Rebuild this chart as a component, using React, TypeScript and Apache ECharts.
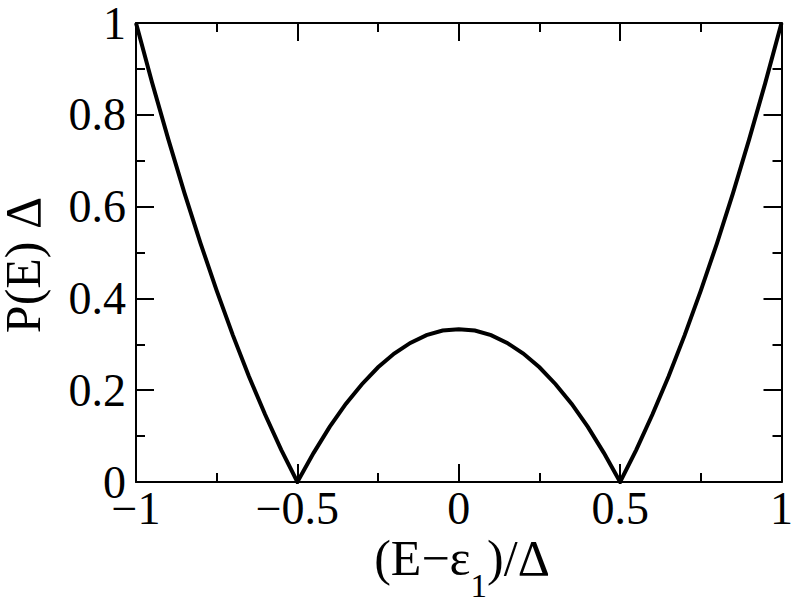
import React, { useEffect, useRef } from "react";
import * as echarts from "echarts";

// Curve: (E - eps1)/Delta  vs  P(E) Delta
const xValues = [
  -1, -0.95, -0.9, -0.85, -0.8, -0.75, -0.7, -0.65, -0.6, -0.55, -0.5,
  -0.45, -0.4, -0.35, -0.3, -0.25, -0.2, -0.15, -0.1, -0.05, 0,
  0.05, 0.1, 0.15, 0.2, 0.25, 0.3, 0.35, 0.4, 0.45, 0.5,
  0.55, 0.6, 0.65, 0.7, 0.75, 0.8, 0.85, 0.9, 0.95, 1,
];
const yValues = [
  1.0, 0.87, 0.747, 0.63, 0.52, 0.417, 0.32, 0.23, 0.147, 0.07, 0,
  0.063, 0.12, 0.17, 0.213, 0.25, 0.28, 0.303, 0.32, 0.33, 0.333,
  0.33, 0.32, 0.303, 0.28, 0.25, 0.213, 0.17, 0.12, 0.063, 0,
  0.07, 0.147, 0.23, 0.32, 0.417, 0.52, 0.63, 0.747, 0.87, 1.0,
];

const xTickValues = [-1, -0.5, 0, 0.5, 1];
const xTickLabels = ["\u22121", "\u22120.5", "0", "0.5", "1"];
const yTickValues = [0, 0.2, 0.4, 0.6, 0.8, 1];
const yTickLabels = ["0", "0.2", "0.4", "0.6", "0.8", "1"];

const xTitleParts = ["(E\u2212\u03b5", "1", ")/\u0394"];
const yTitle = "P(E) \u0394";

const FONT = "'Liberation Serif', 'Times New Roman', Times, serif";

function labelFor(values: number[], labels: string[]) {
  return (v: number) => {
    const i = values.findIndex((t) => Math.abs(t - v) < 1e-9);
    return i >= 0 ? labels[i] : "";
  };
}

function measure(text: string, size: number) {
  const c = document.createElement("canvas").getContext("2d");
  if (!c) return text.length * size * 0.5;
  c.font = `${size}px ${FONT}`;
  return c.measureText(text).width;
}

export default function App() {
  const ref = useRef<HTMLDivElement>(null);

  useEffect(() => {
    if (!ref.current) return;
    const chart = echarts.init(ref.current, undefined, { renderer: "svg" });

    const axisLine = { show: true, onZero: false, lineStyle: { color: "#000", width: 2 } };
    const axisTick = { show: true, inside: true, length: 18, lineStyle: { color: "#000", width: 2 } };
    const minorTick = { show: true, splitNumber: 2, length: 9, lineStyle: { color: "#000", width: 2 } };
    const labelStyle = { color: "#000", fontFamily: FONT, fontSize: 46 };

    const data = xValues.map((x, i) => [x, yValues[i]]);

    // x-axis title with subscript, laid out from measured widths
    const mainSize = 50;
    const subSize = 33;
    const w1 = measure(xTitleParts[0], mainSize);
    const ws = measure(xTitleParts[1], subSize);
    const w2 = measure(xTitleParts[2], mainSize);
    const total = w1 + ws + w2;
    const startX = 462 - total / 2;
    const mainY = 575 - 0.3375 * mainSize;
    const subY = 597 - 0.3375 * subSize;

    chart.setOption({
      animation: false,
      backgroundColor: "#fff",
      grid: { left: 136, right: 10, top: 18, bottom: 117, containLabel: false },
      xAxis: [
        {
          type: "value",
          min: -1,
          max: 1,
          interval: 0.5,
          position: "bottom",
          axisLine,
          axisTick,
          minorTick,
          splitLine: { show: false },
          axisLabel: {
            ...labelStyle,
            margin: 3,
            showMinLabel: true,
            showMaxLabel: true,
            formatter: labelFor(xTickValues, xTickLabels),
          },
        },
        {
          type: "value",
          min: -1,
          max: 1,
          interval: 0.5,
          position: "top",
          axisLine,
          axisTick,
          minorTick,
          splitLine: { show: false },
          axisLabel: { show: false },
        },
      ],
      yAxis: [
        {
          type: "value",
          min: 0,
          max: 1,
          interval: 0.2,
          position: "left",
          axisLine,
          axisTick,
          minorTick,
          splitLine: { show: false },
          axisLabel: {
            ...labelStyle,
            margin: 10,
            showMinLabel: true,
            showMaxLabel: true,
            formatter: labelFor(yTickValues, yTickLabels),
          },
        },
        {
          type: "value",
          min: 0,
          max: 1,
          interval: 0.2,
          position: "right",
          axisLine,
          axisTick,
          minorTick,
          splitLine: { show: false },
          axisLabel: { show: false },
        },
      ],
      graphic: [
        {
          type: "text",
          x: startX,
          y: mainY,
          style: {
            text: xTitleParts[0],
            align: "left",
            verticalAlign: "middle",
            fontFamily: FONT,
            fontSize: mainSize,
            fill: "#000",
          },
        },
        {
          type: "text",
          x: startX + w1,
          y: subY,
          style: {
            text: xTitleParts[1],
            align: "left",
            verticalAlign: "middle",
            fontFamily: FONT,
            fontSize: subSize,
            fill: "#000",
          },
        },
        {
          type: "text",
          x: startX + w1 + ws,
          y: mainY,
          style: {
            text: xTitleParts[2],
            align: "left",
            verticalAlign: "middle",
            fontFamily: FONT,
            fontSize: mainSize,
            fill: "#000",
          },
        },
        {
          type: "text",
          x: 23,
          y: 265,
          rotation: Math.PI / 2,
          style: {
            text: yTitle,
            align: "center",
            verticalAlign: "middle",
            fontFamily: FONT,
            fontSize: 50,
            fill: "#000",
          },
        },
      ],
      series: [
        {
          type: "line",
          xAxisIndex: 0,
          yAxisIndex: 0,
          data,
          showSymbol: false,
          symbol: "none",
          smooth: false,
          lineStyle: { color: "#000", width: 4, join: "miter" },
          clip: true,
        },
      ],
    });

    return () => chart.dispose();
  }, []);

  return (
    <div
      ref={ref}
      style={{ position: "fixed", left: 0, top: 0, width: 796, height: 599, background: "#fff" }}
    />
  );
}
